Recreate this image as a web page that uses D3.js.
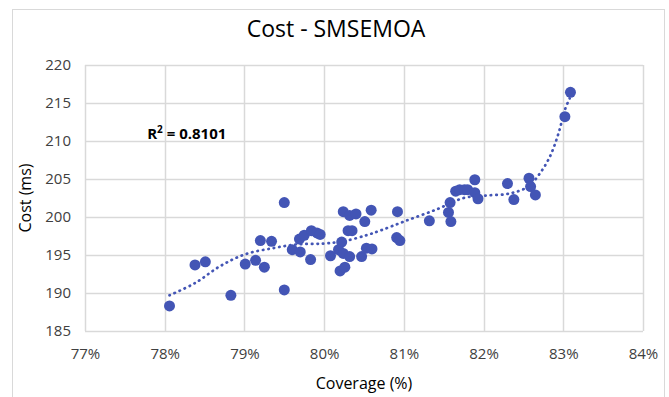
<!DOCTYPE html>
<html>
<head>
<meta charset="utf-8">
<script src="https://cdn.jsdelivr.net/npm/d3@7"></script>
<style>
  body { margin: 0; background: #fff; }
  svg text { font-family: "Open Sans", "Liberation Sans", sans-serif; fill: #404040; }
</style>
</head>
<body>
<div id="chart"></div>
<script>
// coverage (%) and cost (ms)
const coverage = [
  78.06, 78.38, 78.51, 78.83, 79.01, 79.14, 79.25, 79.20, 79.34, 79.50,
  79.50, 79.60, 79.70, 79.69, 79.75, 79.83, 79.84, 79.91, 79.95, 80.08,
  80.20, 80.26, 80.24, 80.32, 80.40, 80.51, 80.59, 80.30, 80.35, 80.22,
  80.18, 80.24, 80.32, 80.47, 80.53, 80.60, 80.92, 80.91, 80.95, 81.32,
  81.56, 81.59, 81.58, 81.65, 81.70, 81.76, 81.80, 81.89, 81.89, 81.93,
  82.30, 82.38, 82.57, 82.59, 82.65, 83.02, 83.09
];
const cost = [
  188.3, 193.7, 194.1, 189.7, 193.8, 194.3, 193.4, 196.9, 196.8, 201.9,
  190.4, 195.7, 195.4, 197.1, 197.6, 194.4, 198.2, 197.9, 197.7, 194.9,
  192.9, 193.4, 200.7, 200.2, 200.4, 199.4, 200.9, 198.2, 198.2, 196.7,
  195.7, 195.2, 194.8, 194.8, 195.9, 195.8, 200.7, 197.3, 196.9, 199.5,
  200.6, 199.4, 201.9, 203.4, 203.6, 203.6, 203.6, 204.9, 203.2, 202.4,
  204.4, 202.3, 205.1, 204.0, 202.9, 213.2, 216.4
];

// trendline as drawn in the picture
const trendX = [78.06, 78.38, 78.69, 79.01, 79.36, 79.66, 79.99, 80.24, 80.53, 80.70,
  81.00, 81.41, 81.75, 82.00, 82.33, 82.56, 82.69, 82.83, 82.94, 83.02, 83.08];
const trendY = [189.7, 191.3, 193.5, 195.1, 195.9, 196.4, 196.5, 196.8, 197.6, 198.2,
  199.4, 201.0, 202.5, 202.8, 203.1, 204.0, 205.5, 207.9, 211.0, 214.1, 215.6];

const xTicks = [77, 78, 79, 80, 81, 82, 83, 84];
const yTicks = [185, 190, 195, 200, 205, 210, 215, 220];
const title = "Cost - SMSEMOA";
const rSquared = "0.8101";

const width = 669, height = 397;
const margin = { top: 65, right: 26, bottom: 66, left: 85 };
const color = "#4355b5";

const svg = d3.select("#chart").append("svg")
  .attr("width", width)
  .attr("height", height);

// outer chart border
svg.append("rect")
  .attr("x", 12.5).attr("y", 9.5)
  .attr("width", 652).attr("height", 400)
  .attr("fill", "#fff")
  .attr("stroke", "#d9d9d9");

const x = d3.scaleLinear().domain([77, 84]).range([margin.left, width - margin.right]);
const y = d3.scaleLinear().domain([185, 220]).range([height - margin.bottom, margin.top]);

// grid
svg.append("g")
  .selectAll("line")
  .data(yTicks)
  .join("line")
    .attr("x1", x(77)).attr("x2", x(84))
    .attr("y1", d => Math.round(y(d)) + 0.5).attr("y2", d => Math.round(y(d)) + 0.5)
    .attr("stroke", "#d9d9d9").attr("stroke-width", 1.5);

svg.append("g")
  .selectAll("line")
  .data(xTicks)
  .join("line")
    .attr("x1", d => Math.round(x(d)) + 0.5).attr("x2", d => Math.round(x(d)) + 0.5)
    .attr("y1", y(185)).attr("y2", y(220))
    .attr("stroke", "#d9d9d9").attr("stroke-width", 1.5);

// axes (labels only)
const xAxis = svg.append("g")
  .attr("transform", `translate(0, ${y(185)})`)
  .call(d3.axisBottom(x).tickValues(xTicks).tickSize(0).tickPadding(17).tickFormat(d => d + "%"));
const yAxis = svg.append("g")
  .attr("transform", `translate(${x(77)}, 0)`)
  .call(d3.axisLeft(y).tickValues(yTicks).tickSize(0).tickPadding(14));
[xAxis, yAxis].forEach(a => {
  a.select(".domain").remove();
  a.selectAll("text").attr("font-size", 15).attr("fill", "#404040")
    .style("font-family", "'Open Sans', sans-serif");
});

// trendline
const line = d3.line()
  .x((d, i) => x(trendX[i]))
  .y((d, i) => y(trendY[i]))
  .curve(d3.curveCatmullRom);

svg.append("path")
  .attr("d", line(trendX))
  .attr("fill", "none")
  .attr("stroke", color)
  .attr("stroke-width", 2.7)
  .attr("stroke-linecap", "round")
  .attr("stroke-dasharray", "0.5,5");

// points
svg.append("g")
  .selectAll("circle")
  .data(coverage)
  .join("circle")
    .attr("cx", (d, i) => x(d))
    .attr("cy", (d, i) => y(cost[i]))
    .attr("r", 5.5)
    .attr("fill", color);

// R^2 label
const r2 = svg.append("text")
  .attr("x", x(77.78)).attr("y", y(210.3))
  .attr("font-size", 15).attr("font-weight", "bold")
  .style("fill", "#000");
r2.append("tspan").text("R");
r2.append("tspan").text("2").attr("font-size", 10).attr("dy", -6);
r2.append("tspan").text(" = " + rSquared).attr("dy", 6);

// titles
svg.append("text")
  .attr("x", 336).attr("y", 37)
  .attr("text-anchor", "middle")
  .attr("font-size", 23)
  .style("fill", "#000")
  .text(title);

svg.append("text")
  .attr("x", x(80.5)).attr("y", 389)
  .attr("text-anchor", "middle")
  .attr("font-size", 16)
  .style("fill", "#000")
  .text("Coverage (%)");

svg.append("text")
  .attr("transform", `translate(31, ${y(202.5)}) rotate(-90)`)
  .attr("text-anchor", "middle")
  .attr("font-size", 16)
  .style("fill", "#000")
  .text("Cost (ms)");
</script>
</body>
</html>
